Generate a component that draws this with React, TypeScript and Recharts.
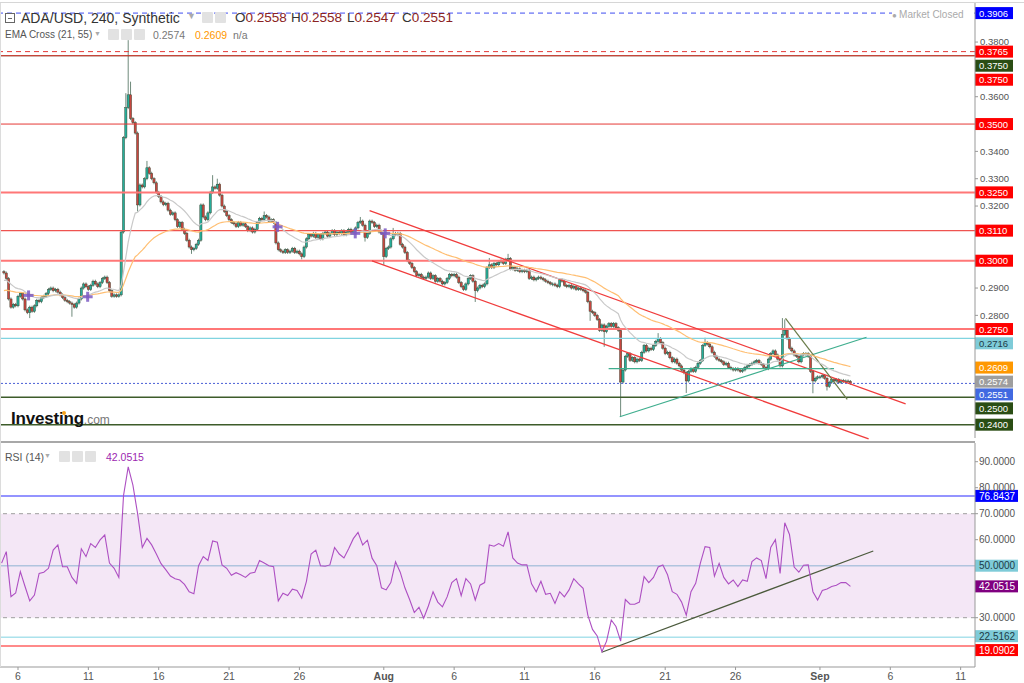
import React from "react";
import { ComposedChart, Bar, Line, XAxis, YAxis, ReferenceLine, ReferenceArea, Scatter } from "recharts";

// ---------------- DATA ----------------
// time axis: days counted from July 1 (Aug 1 = 32, Sep 1 = 63); 4h candles, 6 per day
const firstDay = "07-05";
const firstOpen = 0.296;

const closeRows: [string, number[]][] = [
  ["07-05", [0.2955, 0.2935, 0.286, 0.283, 0.284, 0.2835]],
  ["07-06", [0.287, 0.288, 0.286, 0.282, 0.281, 0.283]],
  ["07-07", [0.2815, 0.2835, 0.2855, 0.285, 0.2865, 0.287]],
  ["07-08", [0.288, 0.2895, 0.29, 0.289, 0.2895, 0.2885]],
  ["07-09", [0.2875, 0.2865, 0.2855, 0.285, 0.2845, 0.284]],
  ["07-10", [0.283, 0.2845, 0.286, 0.29, 0.2915, 0.2905]],
  ["07-11", [0.2895, 0.291, 0.2925, 0.2915, 0.2905, 0.292]],
  ["07-12", [0.2935, 0.294, 0.292, 0.289, 0.287, 0.2875]],
  ["07-13", [0.287, 0.2875, 0.3105, 0.345, 0.356, 0.3607]],
  ["07-14", [0.352, 0.3505, 0.3467, 0.3204, 0.3277, 0.327]],
  ["07-15", [0.33, 0.334, 0.332, 0.33, 0.3285, 0.325]],
  ["07-16", [0.3235, 0.3215, 0.3205, 0.321, 0.3185, 0.317]],
  ["07-17", [0.3175, 0.315, 0.3125, 0.314, 0.3115, 0.31]],
  ["07-18", [0.3075, 0.305, 0.304, 0.3045, 0.306, 0.3075]],
  ["07-19", [0.3204, 0.316, 0.315, 0.3175, 0.325, 0.327]],
  ["07-20", [0.3265, 0.328, 0.324, 0.32, 0.318, 0.3165]],
  ["07-21", [0.315, 0.314, 0.3135, 0.3125, 0.314, 0.313]],
  ["07-22", [0.3135, 0.3125, 0.311, 0.312, 0.3105, 0.3115]],
  ["07-23", [0.314, 0.3155, 0.315, 0.3165, 0.316, 0.3145]],
  ["07-24", [0.315, 0.314, 0.3065, 0.304, 0.3035, 0.303]],
  ["07-25", [0.304, 0.303, 0.3035, 0.3045, 0.303, 0.3035]],
  ["07-26", [0.3025, 0.3015, 0.305, 0.308, 0.3095, 0.309]],
  ["07-27", [0.31, 0.3085, 0.3095, 0.308, 0.31, 0.3105]],
  ["07-28", [0.309, 0.31, 0.311, 0.3095, 0.3105, 0.31]],
  ["07-29", [0.311, 0.3095, 0.3105, 0.3115, 0.31, 0.311]],
  ["07-30", [0.312, 0.314, 0.3145, 0.313, 0.3085, 0.31]],
  ["07-31", [0.3145, 0.314, 0.3125, 0.313, 0.3105, 0.31]],
  ["08-01", [0.3015, 0.3045, 0.305, 0.308, 0.31, 0.3095]],
  ["08-02", [0.31, 0.306, 0.305, 0.303, 0.3, 0.299]],
  ["08-03", [0.2975, 0.296, 0.2945, 0.295, 0.294, 0.2935]],
  ["08-04", [0.294, 0.2955, 0.2935, 0.2945, 0.2925, 0.2935]],
  ["08-05", [0.2925, 0.2915, 0.292, 0.2935, 0.295, 0.2945]],
  ["08-06", [0.295, 0.294, 0.292, 0.2905, 0.2895, 0.2915]],
  ["08-07", [0.2935, 0.2945, 0.2925, 0.289, 0.29, 0.291]],
  ["08-08", [0.2905, 0.2915, 0.2975, 0.2985, 0.2975, 0.299]],
  ["08-09", [0.2985, 0.2995, 0.3, 0.299, 0.3005, 0.3008]],
  ["08-10", [0.297, 0.2975, 0.2965, 0.297, 0.296, 0.2965]],
  ["08-11", [0.296, 0.2965, 0.2935, 0.294, 0.293, 0.2935]],
  ["08-12", [0.294, 0.2935, 0.293, 0.2925, 0.292, 0.2915]],
  ["08-13", [0.2915, 0.291, 0.2905, 0.293, 0.2925, 0.291]],
  ["08-14", [0.2905, 0.291, 0.29, 0.2905, 0.2895, 0.29]],
  ["08-15", [0.2895, 0.289, 0.2885, 0.285, 0.2815, 0.281]],
  ["08-16", [0.28, 0.2785, 0.2745, 0.2765, 0.274, 0.276]],
  ["08-17", [0.277, 0.276, 0.277, 0.2755, 0.2745, 0.2556]],
  ["08-18", [0.26, 0.265, 0.266, 0.2635, 0.2645, 0.263]],
  ["08-19", [0.264, 0.2635, 0.2665, 0.269, 0.267, 0.268]],
  ["08-20", [0.2675, 0.269, 0.2705, 0.2715, 0.27, 0.268]],
  ["08-21", [0.266, 0.2665, 0.2645, 0.263, 0.264, 0.2625]],
  ["08-22", [0.2615, 0.26, 0.259, 0.256, 0.2595, 0.2605]],
  ["08-23", [0.2595, 0.261, 0.2625, 0.2635, 0.269, 0.27]],
  ["08-24", [0.2695, 0.2685, 0.2665, 0.265, 0.264, 0.2635]],
  ["08-25", [0.263, 0.262, 0.2625, 0.261, 0.2605, 0.26]],
  ["08-26", [0.2605, 0.26, 0.2595, 0.26, 0.261, 0.2615]],
  ["08-27", [0.262, 0.2625, 0.263, 0.2635, 0.2625, 0.262]],
  ["08-28", [0.261, 0.2605, 0.264, 0.266, 0.267, 0.2655]],
  ["08-29", [0.264, 0.2615, 0.273, 0.2745, 0.2715, 0.268]],
  ["08-30", [0.267, 0.2655, 0.265, 0.263, 0.2655, 0.266]],
  ["08-31", [0.266, 0.265, 0.2595, 0.256, 0.257, 0.2575]],
  ["09-01", [0.2575, 0.258, 0.257, 0.254, 0.2555, 0.2565]],
  ["09-02", [0.256, 0.2565, 0.2555, 0.2562, 0.2558, 0.256]],
  ["09-03", [0.2558, 0.2551]],
];

// notable wick extremes: [date, 4h slot, price]
const upperWicks: [string, number, number][] = [
  ["07-13", 4, 0.3613], ["07-13", 5, 0.3807], ["07-14", 0, 0.3655], ["07-15", 1, 0.3365],
  ["07-19", 5, 0.3313], ["07-20", 1, 0.33], ["07-23", 3, 0.318], ["07-30", 2, 0.316],
  ["08-01", 4, 0.312], ["08-08", 3, 0.301], ["08-09", 5, 0.3025], ["08-20", 3, 0.2735],
  ["08-23", 5, 0.2718], ["08-29", 2, 0.279], ["08-29", 3, 0.2785],
];
const lowerWicks: [string, number, number][] = [
  ["07-06", 5, 0.279], ["07-09", 5, 0.2795], ["07-14", 3, 0.318], ["07-18", 2, 0.3025],
  ["07-26", 1, 0.3005], ["07-30", 4, 0.307], ["08-01", 0, 0.2985], ["08-07", 3, 0.2849],
  ["08-15", 4, 0.278], ["08-16", 4, 0.2685], ["08-17", 5, 0.2429], ["08-22", 3, 0.2516],
  ["08-31", 3, 0.2515], ["09-01", 3, 0.2525], ["09-03", 1, 0.2547],
];

// EMA indicator values at the first candle
const ema21Start = 0.2925;
const ema55Start = 0.2888;

// EMA-cross markers: [day, price]
const emaCrossDays = [6.75, 10.95, 24.45, 29.97, 32.1];
const emaCrossPrices = [0.2873, 0.2868, 0.3124, 0.31, 0.31];

// drawn trend lines: [day, price] pairs
const channelUpper = [[30.99, 0.3183], [69.09, 0.2476]];
const channelLower = [[31.16, 0.2999], [66.46, 0.2348]];
const risingLine = [[48.77, 0.2429], [66.31, 0.272]];
const flatLine = [[47.98, 0.2605], [64.0, 0.2605]];
const fallingLine = [[60.55, 0.2789], [64.94, 0.2493]];

// horizontal price levels and their tags
const priceLevelValues = [0.3906, 0.3765, 0.375, 0.375, 0.35, 0.325, 0.311, 0.3, 0.275, 0.2716, 0.2609, 0.2574, 0.2551, 0.25, 0.24];
const priceTicks = [0.38, 0.36, 0.34, 0.33, 0.32, 0.29, 0.28];

// RSI(14), three readings per day (04h, 12h, 20h)
const rsiRows: [string, (number | null)[]][] = [
  ["07-04", [null, null, 51.0]],
  ["07-05", [55.4, 38.1, 39.5]],
  ["07-06", [47.7, 42.0, 36.5]],
  ["07-07", [38.7, 47.0, 47.5]],
  ["07-08", [49.0, 56.0, 58.0]],
  ["07-09", [49.6, 49.6, 45.5]],
  ["07-10", [43.2, 56.5, 53.5]],
  ["07-11", [58.5, 57.0, 59.9]],
  ["07-12", [61.8, 51.0, 49.0]],
  ["07-13", [45.5, 77.0, 88.0]],
  ["07-14", [81.0, 70.0, 57.0]],
  ["07-15", [60.5, 58.0, 54.5]],
  ["07-16", [50.8, 48.5, 46.0]],
  ["07-17", [45.0, 44.5, 42.8]],
  ["07-18", [40.0, 39.2, 50.0]],
  ["07-19", [53.5, 52.0, 59.5]],
  ["07-20", [59.0, 50.3, 49.0]],
  ["07-21", [46.3, 47.3, 46.5]],
  ["07-22", [45.5, 47.1, 47.5]],
  ["07-23", [52.0, 51.0, 50.0]],
  ["07-24", [49.6, 36.5, 39.4]],
  ["07-25", [38.5, 41.0, 40.5]],
  ["07-26", [37.5, 44.0, 54.5]],
  ["07-27", [56.0, 50.0, 49.8]],
  ["07-28", [50.3, 57.0, 54.5]],
  ["07-29", [53.0, 56.5, 60.4]],
  ["07-30", [62.8, 58.0, 59.8]],
  ["07-31", [52.9, 50.0, 41.5]],
  ["08-01", [40.7, 43.5, 51.5]],
  ["08-02", [47.5, 41.5, 37.0]],
  ["08-03", [32.0, 34.0, 29.8]],
  ["08-04", [34.5, 40.0, 36.0]],
  ["08-05", [34.2, 38.0, 43.5]],
  ["08-06", [45.0, 38.5, 45.0]],
  ["08-07", [43.0, 36.8, 42.5]],
  ["08-08", [43.5, 58.0, 57.5]],
  ["08-09", [58.5, 57.5, 63.0]],
  ["08-10", [53.0, 51.0, 50.3]],
  ["08-11", [50.3, 43.0, 40.0]],
  ["08-12", [44.0, 39.0, 39.4]],
  ["08-13", [35.5, 40.0, 38.0]],
  ["08-14", [40.7, 45.0, 43.0]],
  ["08-15", [41.3, 31.0, 25.5]],
  ["08-16", [23.0, 16.9, 21.0]],
  ["08-17", [29.1, 26.6, 21.0]],
  ["08-18", [37.0, 35.2, 35.2]],
  ["08-19", [36.0, 45.8, 43.5]],
  ["08-20", [45.5, 49.5, 50.3]],
  ["08-21", [46.5, 40.0, 39.0]],
  ["08-22", [36.0, 31.0, 40.0]],
  ["08-23", [43.2, 51.0, 57.3]],
  ["08-24", [57.0, 46.0, 50.9]],
  ["08-25", [45.5, 43.0, 44.5]],
  ["08-26", [42.0, 44.5, 44.0]],
  ["08-27", [51.6, 53.0, 52.0]],
  ["08-28", [45.0, 57.0, 60.0]],
  ["08-29", [47.0, 66.5, 62.0]],
  ["08-30", [49.5, 47.5, 50.2]],
  ["08-31", [50.3, 40.0, 36.8]],
  ["09-01", [40.5, 41.0, 42.0]],
  ["09-02", [42.5, 43.5, 43.5]],
  ["09-03", [42.05, null, null]],
];
const rsiLevelValues = [76.8437, 50, 42.0515, 22.5162, 19.0902];
const rsiTicks = [90, 80, 70, 60, 30];
const rsiTrend = [[47.49, 16.7], [66.79, 55.66]];

const xTickDays = [6, 11, 16, 21, 26, 32, 37, 42, 47, 52, 57, 63, 68, 73];
const xTickLabels = ["6", "11", "16", "21", "26", "Aug", "6", "11", "16", "21", "26", "Sep", "6", "11"];

// ---------------- BUILD ----------------
const dayNum = (md: string) => {
  const [m, d] = md.split("-").map(Number);
  return (m === 7 ? 0 : m === 8 ? 31 : 62) + d;
};
const startDay = dayNum(firstDay);
const closes: number[] = closeRows.flatMap((r) => r[1]);
const slotIndex = (md: string, s: number) => (dayNum(md) - startDay) * 6 + s;
const hiMap = new Map<number, number>(upperWicks.map(([d, s, v]) => [slotIndex(d, s), v]));
const loMap = new Map<number, number>(lowerWicks.map(([d, s, v]) => [slotIndex(d, s), v]));

const k21 = 2 / 22;
const k55 = 2 / 56;
let e21 = ema21Start;
let e55 = ema55Start;
const candles = closes.map((c, i) => {
  const o = i === 0 ? firstOpen : closes[i - 1];
  const h = Math.max(o, c, hiMap.get(i) ?? 0);
  const l = Math.min(o, c, loMap.get(i) ?? 9);
  e21 = c * k21 + e21 * (1 - k21);
  e55 = c * k55 + e55 * (1 - k55);
  return { t: startDay + i / 6, o, h, l, c, e21, e55 };
});

const crossData = emaCrossDays.map((t, i) => ({ t, p: emaCrossPrices[i] }));

const rsiPoints: { t: number; v: number }[] = [];
rsiRows.forEach(([md, vals]) => {
  vals.forEach((v, k) => {
    if (v != null) rsiPoints.push({ t: dayNum(md) + (k * 8 + 4) / 24, v });
  });
});

// ---------------- STYLE ----------------
const FONT = '"Liberation Sans", Arial, sans-serif';
const X_DOMAIN: [number, number] = [4.72, 74.02];
const PRICE_DOMAIN: [number, number] = [0.23513, 0.39429];
const RSI_DOMAIN: [number, number] = [11.04, 97.19];
const UP = "#26ad9a";
const DOWN = "#c7463f";

const levelStyles = [
  { stroke: "#3f4cf0", w: 1, dash: "5 4", tag: "#0000ff", fg: "#fff", dy: 0 },
  { stroke: "#e53935", w: 1, dash: "5 4", tag: "#ff0000", fg: "#fff", dy: 0 },
  { stroke: "#2c4a1c", w: 1, dash: undefined, tag: "#2a4d14", fg: "#fff", dy: 10 },
  { stroke: "#e53935", w: 1, dash: undefined, tag: "#ff0000", fg: "#fff", dy: 24 },
  { stroke: "#e53935", w: 1, dash: undefined, tag: "#ff0000", fg: "#fff", dy: 0 },
  { stroke: "#ff7777", w: 2, dash: undefined, tag: "#ff0000", fg: "#fff", dy: 0 },
  { stroke: "#ef5350", w: 1.2, dash: undefined, tag: "#ff0000", fg: "#fff", dy: 0 },
  { stroke: "#ff7777", w: 2, dash: undefined, tag: "#ff0000", fg: "#fff", dy: 0 },
  { stroke: "#ff7777", w: 2, dash: undefined, tag: "#ff0000", fg: "#fff", dy: 0 },
  { stroke: "#80d4e0", w: 1.2, dash: undefined, tag: "#7ecbd8", fg: "#1c3a46", dy: 5 },
  { stroke: "none", w: 0, dash: undefined, tag: "#ff9800", fg: "#fff", dy: 0 },
  { stroke: "none", w: 0, dash: undefined, tag: "#9e9e9e", fg: "#fff", dy: 4.5 },
  { stroke: "#4a5fd6", w: 1, dash: "2 2", tag: "#4169e1", fg: "#fff", dy: 11 },
  { stroke: "#3d5c2a", w: 1.5, dash: undefined, tag: "#2a4d14", fg: "#fff", dy: 11 },
  { stroke: "#3d5c2a", w: 1.5, dash: undefined, tag: "#2a4d14", fg: "#fff", dy: 0 },
];
const rsiLevelStyles = [
  { stroke: "#7070ff", w: 1.5, tag: "#0000ff", fg: "#fff", dy: 0 },
  { stroke: "#b0c4de", w: 1.5, tag: "#7ecbd8", fg: "#1c3a46", dy: 0 },
  { stroke: "none", w: 0, tag: "#800080", fg: "#fff", dy: 0 },
  { stroke: "#80d4e2", w: 1, tag: "#7ecbd8", fg: "#1c3a46", dy: -1 },
  { stroke: "#ff8a8a", w: 2, tag: "#ff0000", fg: "#fff", dy: 4 },
];

const makeTag = (text: string, bg: string, fg: string, dy: number, w: number, fs: number) => (props: any) => {
  const vb = props.viewBox || {};
  const x = (vb.x ?? 0) + (vb.width ?? 0);
  const y = (vb.y ?? 0) + dy;
  return (
    <g>
      <rect x={x} y={y - 6} width={w} height={12} fill={bg} />
      <text x={x + 4} y={y + 3.6} fontSize={fs} fill={fg} fontFamily={FONT}>{text}</text>
    </g>
  );
};

const Candle = (props: any) => {
  const { x, y, width, height, payload } = props;
  if (!payload || x == null || y == null) return null;
  const { o, c, h, l } = payload;
  const cx = x + (width || 0) / 2;
  const span = h - l;
  const k = span > 0 ? (height || 0) / span : 0;
  const py = (v: number) => y + (h - v) * k;
  const top = py(Math.max(o, c));
  const bodyH = Math.max(py(Math.min(o, c)) - top, 0.8);
  const up = c >= o;
  return (
    <g>
      <line x1={cx} x2={cx} y1={Math.min(y, top - 1.5)} y2={Math.max(y + (height || 0), top + bodyH + 1.5)} stroke="#5f7d6c" strokeWidth={0.9} />
      <rect x={cx - 1.1} y={top} width={2.2} height={bodyH} fill={up ? UP : DOWN} stroke="#34432f" strokeWidth={0.45} />
    </g>
  );
};

const CrossMark = (props: any) => {
  const { cx, cy } = props;
  if (cx == null) return null;
  return (
    <g stroke="#7c5cc4" strokeOpacity={0.85} strokeWidth={3}>
      <line x1={cx - 5} x2={cx + 5} y1={cy} y2={cy} />
      <line x1={cx} x2={cx} y1={cy - 5} y2={cy + 5} />
    </g>
  );
};

const PriceTick = (props: any) => {
  const { x, y, payload } = props;
  return (
    <text x={x} y={y + 3.4} fontSize={9.5} fill="#555" fontFamily={FONT}>{Number(payload.value).toFixed(4)}</text>
  );
};
const RsiTick = (props: any) => {
  const { x, y, payload } = props;
  return (
    <text x={x - 1} y={y + 3.6} fontSize={10} fill="#555" fontFamily={FONT}>{Number(payload.value).toFixed(4)}</text>
  );
};
const DateTick = (props: any) => {
  const { x, y, payload } = props;
  const i = xTickDays.indexOf(payload.value);
  const label = xTickLabels[i] ?? "";
  const bold = label === "Aug" || label === "Sep";
  return (
    <text x={x} y={y + 8} textAnchor="middle" fontSize={10.5} fill="#555" fontWeight={bold ? "bold" : "normal"} fontFamily={FONT}>{label}</text>
  );
};

const seg = (pts: number[][]) => [{ x: pts[0][0], y: pts[0][1] }, { x: pts[1][0], y: pts[1][1] }] as any;

const box = (left: number, top: number) => (
  <div style={{ position: "absolute", left, top, width: 11, height: 11, background: "#e2e2e2", borderRadius: 1 }} />
);

export default function App() {
  return (
    <div style={{ position: "fixed", left: 0, top: 0, width: 1024, height: 683, background: "#fff", overflow: "hidden", fontFamily: FONT }}>
      {/* price panel */}
      <div style={{ position: "absolute", left: 0, top: 0 }}>
        <ComposedChart width={1024} height={440} data={candles} margin={{ top: 3, right: 0, bottom: 2, left: 0 }}>
          <XAxis dataKey="t" type="number" domain={X_DOMAIN} allowDataOverflow hide />
          <YAxis
            orientation="right"
            width={49}
            type="number"
            domain={PRICE_DOMAIN}
            allowDataOverflow
            ticks={priceTicks}
            interval={0}
            tickSize={3}
            tickMargin={2}
            tick={<PriceTick />}
            axisLine={{ stroke: "#999" }}
            tickLine={{ stroke: "#999" }}
          />
          {priceLevelValues.map((v, i) => {
            const s = levelStyles[i];
            return (
              <ReferenceLine
                key={"pl" + i}
                y={v}
                stroke={s.stroke}
                strokeWidth={s.w}
                strokeDasharray={s.dash}
                label={makeTag(v.toFixed(4), s.tag, s.fg, s.dy, 38, 9.5)}
              />
            );
          })}
          <ReferenceLine segment={seg(channelUpper)} stroke="#f03c3c" strokeWidth={1.3} ifOverflow="visible" />
          <ReferenceLine segment={seg(channelLower)} stroke="#f03c3c" strokeWidth={1.3} ifOverflow="visible" />
          <ReferenceLine segment={seg(risingLine)} stroke="#3fae8e" strokeWidth={1.2} ifOverflow="visible" />
          <ReferenceLine segment={seg(flatLine)} stroke="#3fae8e" strokeWidth={1.2} ifOverflow="visible" />
          <ReferenceLine segment={seg(fallingLine)} stroke="#6b7d4a" strokeWidth={1.2} ifOverflow="visible" />
          <Line dataKey="e55" dot={false} stroke="#ffbf73" strokeWidth={1.2} isAnimationActive={false} />
          <Line dataKey="e21" dot={false} stroke="#c9c9c9" strokeWidth={1.2} isAnimationActive={false} />
          <Bar dataKey={(d: any) => [d.l, d.h]} barSize={2} shape={<Candle />} isAnimationActive={false} />
          <Scatter data={crossData} dataKey="p" shape={<CrossMark />} isAnimationActive={false} />
        </ComposedChart>
      </div>

      {/* RSI panel */}
      <div style={{ position: "absolute", left: 0, top: 440 }}>
        <ComposedChart width={1024} height={243} data={rsiPoints} margin={{ top: 3, right: 0, bottom: 0, left: 0 }}>
          <XAxis
            dataKey="t"
            type="number"
            domain={X_DOMAIN}
            allowDataOverflow
            ticks={xTickDays}
            interval={0}
            height={16}
            tickSize={3}
            tickMargin={2}
            tick={<DateTick />}
            axisLine={{ stroke: "#999" }}
            tickLine={{ stroke: "#999" }}
          />
          <YAxis
            orientation="right"
            width={49}
            type="number"
            domain={RSI_DOMAIN}
            allowDataOverflow
            ticks={rsiTicks}
            interval={0}
            tickSize={3}
            tickMargin={2}
            tick={<RsiTick />}
            axisLine={{ stroke: "#999" }}
            tickLine={{ stroke: "#999" }}
          />
          <ReferenceArea y1={30} y2={70} fill="#9c27b0" fillOpacity={0.11} stroke="none" />
          <ReferenceLine y={70} stroke="#9e9e9e" strokeDasharray="4 4" />
          <ReferenceLine y={30} stroke="#9e9e9e" strokeDasharray="4 4" />
          {rsiLevelValues.map((v, i) => {
            const s = rsiLevelStyles[i];
            return (
              <ReferenceLine
                key={"rl" + i}
                y={v}
                stroke={s.stroke}
                strokeWidth={s.w}
                label={makeTag(v.toFixed(4), s.tag, s.fg, s.dy, 43, 10)}
              />
            );
          })}
          <ReferenceLine segment={seg(rsiTrend)} stroke="#4b5a3c" strokeWidth={1.2} ifOverflow="visible" />
          <Line dataKey="v" dot={false} stroke="#ad4fc2" strokeWidth={1.1} isAnimationActive={false} />
        </ComposedChart>
      </div>

      {/* frame lines */}
      <div style={{ position: "absolute", left: 0, top: 2, width: 1024, height: 1, background: "#d6d6d6" }} />
      <div style={{ position: "absolute", left: 0, top: 441, width: 975, height: 1.5, background: "#a8a8a8" }} />
      <div style={{ position: "absolute", left: 0, top: 3, width: 1, height: 664, background: "#dcdcdc" }} />

      {/* header */}
      <div style={{ position: "absolute", left: 5, top: 13, width: 8, height: 8, border: "1px solid #666" }}>
        <div style={{ position: "absolute", left: 2, top: 3.5, width: 4, height: 1, background: "#666" }} />
      </div>
      <div style={{ position: "absolute", left: 21, top: 9, fontSize: 14, lineHeight: "18px", color: "#333", whiteSpace: "nowrap" }}>ADA/USD, 240, Synthetic</div>
      <div style={{ position: "absolute", left: 187, top: 11, fontSize: 9, color: "#aaa" }}>▼</div>
      {box(202, 12)}
      {box(215, 12)}
      {[["O", "0.2558", 235], ["H", "0.2558", 291], ["L", "0.2547", 347], ["C", "0.2551", 402]].map(([k, v, x]) => (
        <div key={k as string} style={{ position: "absolute", left: x as number, top: 9, fontSize: 13.5, lineHeight: "18px", whiteSpace: "nowrap" }}>
          <span style={{ color: "#333" }}>{k}</span>
          <span style={{ color: "#8b2323" }}>{v}</span>
        </div>
      ))}
      <div style={{ position: "absolute", left: 5, top: 29, fontSize: 10, lineHeight: "12px", color: "#555", whiteSpace: "nowrap" }}>EMA Cross (21, 55)</div>
      <div style={{ position: "absolute", left: 94, top: 30, fontSize: 7, color: "#aaa" }}>▼</div>
      {box(108, 29)}
      {box(121, 29)}
      {box(134, 29)}
      <div style={{ position: "absolute", left: 153, top: 29, fontSize: 10.5, lineHeight: "12px", color: "#777" }}>0.2574</div>
      <div style={{ position: "absolute", left: 195, top: 29, fontSize: 10.5, lineHeight: "12px", color: "#ff9800" }}>0.2609</div>
      <div style={{ position: "absolute", left: 233, top: 29, fontSize: 10.5, lineHeight: "12px", color: "#777" }}>n/a</div>

      {/* market closed */}
      <div style={{ position: "absolute", left: 892, top: 9, width: 82, height: 12, background: "#fff", fontSize: 10, lineHeight: "12px", color: "#aaa", whiteSpace: "nowrap" }}>
        <span style={{ fontSize: 8 }}>● </span>Market Closed
      </div>

      {/* RSI header */}
      <div style={{ position: "absolute", left: 5, top: 451, fontSize: 10.5, lineHeight: "12px", color: "#555", whiteSpace: "nowrap" }}>RSI (14)</div>
      <div style={{ position: "absolute", left: 44, top: 452, fontSize: 7, color: "#aaa" }}>▼</div>
      {box(59, 451)}
      {box(72, 451)}
      {box(85, 451)}
      <div style={{ position: "absolute", left: 106, top: 451, fontSize: 10.5, lineHeight: "12px", color: "#9c27b0" }}>42.0515</div>

      {/* logo */}
      <div style={{ position: "absolute", left: 11, top: 409, whiteSpace: "nowrap", lineHeight: "20px" }}>
        <span style={{ fontSize: 17, fontWeight: "bold", color: "#111", letterSpacing: -0.2 }}>Investing</span>
        <span style={{ fontSize: 12, color: "#777" }}>.com</span>
      </div>
      <div style={{ position: "absolute", left: 62, top: 411, width: 3.5, height: 3.5, borderRadius: 2, background: "#f7a21b" }} />
    </div>
  );
}
